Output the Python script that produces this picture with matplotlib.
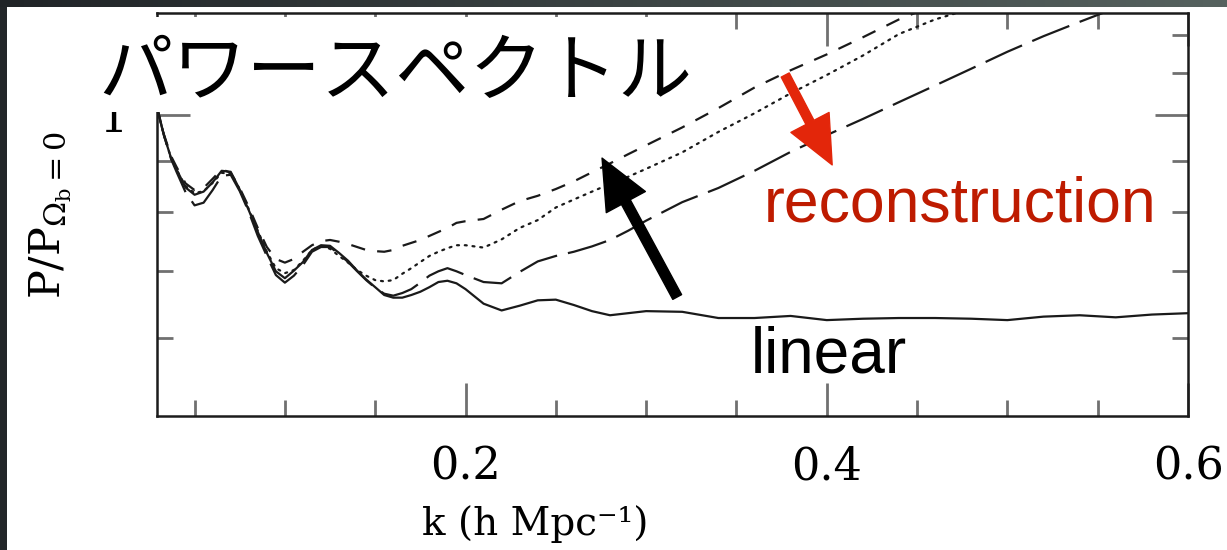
import numpy as np
import matplotlib.pyplot as plt
from matplotlib.patches import Rectangle
from matplotlib.colors import LinearSegmentedColormap
from matplotlib.ticker import FixedLocator, FixedFormatter, NullFormatter

plt.rcParams['font.family'] = 'DejaVu Serif'
plt.rcParams['mathtext.fontset'] = 'dejavuserif'

# wavenumber grid (h/Mpc)
k = [0.029, 0.033, 0.037, 0.040, 0.045, 0.050, 0.055, 0.060, 0.065, 0.070,
     0.075, 0.080, 0.085, 0.090, 0.095, 0.100, 0.105, 0.110, 0.115, 0.120,
     0.125, 0.130, 0.135, 0.140, 0.145, 0.150, 0.155, 0.160, 0.165, 0.170,
     0.175, 0.180, 0.185, 0.190, 0.195, 0.200, 0.210, 0.220, 0.230, 0.240,
     0.250, 0.260, 0.270, 0.280, 0.290, 0.300, 0.320, 0.340, 0.360, 0.380,
     0.400, 0.420, 0.440, 0.460, 0.480, 0.500, 0.520, 0.540, 0.560, 0.580,
     0.600]

# linear theory
p_linear = [1.021, 0.955, 0.906, 0.883, 0.847, 0.833, 0.839, 0.857, 0.880, 0.878,
            0.843, 0.804, 0.765, 0.729, 0.699, 0.688, 0.700, 0.714, 0.734, 0.742,
            0.741, 0.729, 0.716, 0.700, 0.686, 0.674, 0.662, 0.658, 0.658, 0.662,
            0.667, 0.674, 0.682, 0.684, 0.680, 0.671, 0.649, 0.639, 0.646, 0.654,
            0.655, 0.647, 0.638, 0.632, 0.635, 0.638, 0.637, 0.628, 0.628, 0.631,
            0.625, 0.627, 0.628, 0.628, 0.627, 0.625, 0.630, 0.632, 0.629, 0.633,
            0.635]

# long dashed
p_long = [1.021, 0.955, 0.904, 0.878, 0.838, 0.813, 0.818, 0.842, 0.870, 0.872,
          0.840, 0.801, 0.758, 0.724, 0.693, 0.681, 0.692, 0.709, 0.731, 0.739,
          0.739, 0.727, 0.714, 0.699, 0.685, 0.673, 0.664, 0.661, 0.665, 0.671,
          0.681, 0.692, 0.699, 0.704, 0.699, 0.693, 0.682, 0.680, 0.698, 0.715,
          0.724, 0.731, 0.740, 0.751, 0.767, 0.785, 0.819, 0.846, 0.880, 0.919,
          0.955, 0.991, 1.030, 1.070, 1.112, 1.156, 1.198, 1.238, 1.278]

# dotted
p_dot = [1.021, 0.955, 0.906, 0.882, 0.850, 0.836, 0.840, 0.856, 0.876, 0.874,
         0.844, 0.806, 0.767, 0.731, 0.704, 0.696, 0.701, 0.716, 0.734, 0.741,
         0.736, 0.724, 0.713, 0.701, 0.692, 0.685, 0.683, 0.685, 0.695, 0.704,
         0.714, 0.724, 0.731, 0.737, 0.742, 0.742, 0.738, 0.752, 0.772, 0.786,
         0.809, 0.824, 0.839, 0.854, 0.868, 0.884, 0.918, 0.962, 1.004, 1.051,
         1.096, 1.146, 1.204, 1.245, 1.276]

# short dashed
p_short = [1.021, 0.957, 0.910, 0.888, 0.855, 0.842, 0.846, 0.864, 0.883, 0.876,
           0.846, 0.810, 0.772, 0.739, 0.719, 0.713, 0.719, 0.731, 0.742, 0.749,
           0.751, 0.748, 0.744, 0.739, 0.734, 0.732, 0.731, 0.734, 0.741, 0.746,
           0.751, 0.758, 0.765, 0.772, 0.781, 0.784, 0.788, 0.805, 0.821, 0.831,
           0.844, 0.859, 0.877, 0.895, 0.914, 0.933, 0.972, 1.016, 1.065, 1.108,
           1.149, 1.195, 1.245, 1.287]

W, H = 1227, 550
fig = plt.figure(figsize=(W / 100, H / 100), dpi=100, facecolor='#222629')
fig.patches.append(Rectangle((7 / W, 0), 1 - 7 / W, 1 - 7 / H, transform=fig.transFigure,
                             facecolor='white', edgecolor='none', zorder=-1))

# top border with a soft gradient
strip = fig.add_axes([0, 1 - 7 / H, 1, 7 / H])
strip.imshow(np.linspace(0, 1, 256)[None, :], aspect='auto',
             cmap=LinearSegmentedColormap.from_list('edge', ['#202427', '#56625f']))
strip.axis('off')

ax = fig.add_axes([157 / W, 1 - 416 / H, 1031 / W, 403 / H])
ink = '#1a1a1a'
ax.plot(k[:len(p_linear)], p_linear, color=ink, lw=1.6)
ax.plot(k[:len(p_long)], p_long, color=ink, lw=1.6, dashes=(18, 5))
ax.plot(k[:len(p_dot)], p_dot, color=ink, lw=1.6, dashes=(0.9, 2.6), dash_capstyle='round')
ax.plot(k[:len(p_short)], p_short, color=ink, lw=1.6, dashes=(6.5, 5.5))

ax.set_yscale('log')
ax.set_xlim(0.0292, 0.6)
ax.set_ylim(0.5017, 1.2634)
ax.yaxis.set_major_locator(FixedLocator([1.0]))
ax.yaxis.set_major_formatter(FixedFormatter(['1']))
ax.yaxis.set_minor_locator(FixedLocator([0.6, 0.7, 0.8, 0.9, 1.1, 1.2]))
ax.yaxis.set_minor_formatter(NullFormatter())
ax.set_xticks([0.2, 0.4, 0.6], ['0.2', '0.4', '0.6'])
ax.set_xticks([0.05, 0.1, 0.15, 0.25, 0.3, 0.35, 0.45, 0.5, 0.55], minor=True)
ax.xaxis.set_minor_formatter(NullFormatter())
ax.tick_params(which='both', direction='in', top=True, right=True,
               color='#707070', width=2, labelsize=32, pad=21)
ax.tick_params(which='major', length=24)
ax.tick_params(which='minor', length=11.5)
for s in ax.spines.values():
    s.set_linewidth(1.8)
    s.set_color('#1c1c1c')

ax.set_xlabel('k (h Mpc⁻¹)', fontsize=28)
ax.xaxis.set_label_coords(0.3666, -0.268)
ax.xaxis.label.set_va('center')
ax.set_ylabel(r'P/P$_{\Omega_\mathrm{b}=0}$', fontsize=31)
ax.yaxis.set_label_coords(-0.1038, 0.5)
ax.yaxis.label.set_va('center')

ax.annotate('', xy=(0.2756, 0.906), xytext=(0.3172, 0.659),
            arrowprops=dict(arrowstyle='simple,head_length=36,head_width=32,tail_width=7.2',
                            mutation_scale=1, color='black', shrinkA=0, shrinkB=0))
ax.annotate('', xy=(0.4030, 0.892), xytext=(0.3770, 1.096),
            arrowprops=dict(arrowstyle='simple,head_length=34.5,head_width=31,tail_width=6.5',
                            mutation_scale=1, color='#e3260a', shrinkA=0, shrinkB=0))
ax.text(0.3653, 0.7826, 'reconstruction', color='#be1b00', fontsize=45,
        family='Liberation Sans', va='baseline')
ax.text(0.3581, 0.5538, 'linear', color='black', fontsize=46,
        family='Liberation Sans', va='baseline')

# title block sits on a white card over the top-left of the plot
fig.patches.append(Rectangle((95 / W, 1 - 112 / H), 610 / W, 95 / H, transform=fig.transFigure,
                             facecolor='white', edgecolor='none', zorder=5))
fig.text(98 / W, 1 - 73 / H, 'パワースペクトル', fontsize=53.5,
         family=['Noto Sans CJK JP', 'DejaVu Sans'], va='center', zorder=6)

fig.savefig('out.png', dpi=100, facecolor=fig.get_facecolor())
